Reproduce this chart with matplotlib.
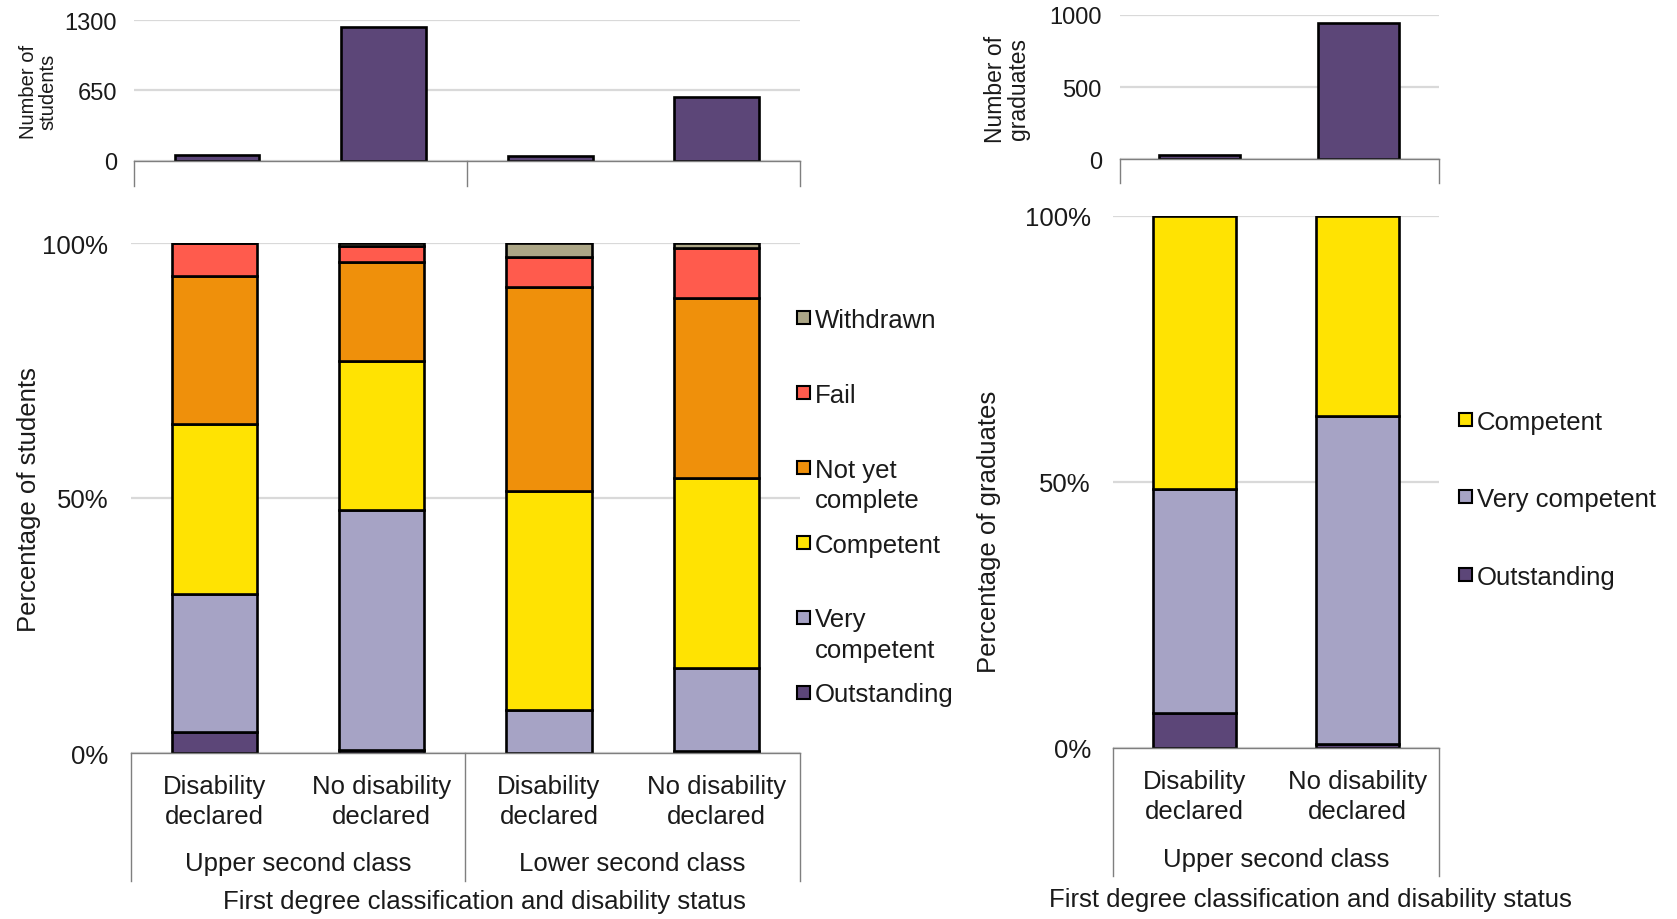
import matplotlib.pyplot as plt
import matplotlib.transforms as mtransforms
from matplotlib.patches import Rectangle
from matplotlib.ticker import FuncFormatter

plt.rcParams["font.family"] = ["Liberation Sans", "DejaVu Sans"]

# values
STATUS = ["Disability\ndeclared", "No disability\ndeclared"]
CLASSES_LEFT = ["Upper second class", "Lower second class"]
CLASSES_RIGHT = ["Upper second class"]

n_students = [55, 1240, 45, 590]
n_graduates = [33, 944]

# percentage of students, bars: upper/dis, upper/no dis, lower/dis, lower/no dis
outstanding = [4.2, 0.5, 0.0, 0.3]
very_competent = [27.0, 47.1, 8.4, 16.3]
competent = [33.4, 29.3, 42.9, 37.3]
not_yet_complete = [29.0, 19.3, 40.1, 35.3]
fail = [6.4, 3.3, 5.8, 9.8]
withdrawn = [0.0, 0.5, 2.8, 1.0]

# percentage of graduates
outstanding_g = [6.5, 0.7]
very_competent_g = [42.1, 61.6]
competent_g = [51.4, 37.7]

COLORS = {
    "Outstanding": "#5c4678",
    "Very competent": "#a6a3c5",
    "Competent": "#ffe302",
    "Not yet complete": "#ef900b",
    "Fail": "#ff5b4d",
    "Withdrawn": "#aca686",
}

W, H = 1677, 920
TXT = "#1a1a1a"
AXC = "#7f7f7f"
FS = 18.5
LS = 1.32          # line spacing of two-line labels
LINE_PX = 30       # gap between the two lines, in pixels

fig = plt.figure(figsize=(W / 100, H / 100), dpi=100)


def px_box(x0, x1, ytop, ybot):
    return [x0 / W, 1 - ybot / H, (x1 - x0) / W, (ybot - ytop) / H]


def fy(y):
    return 1 - y / H


def style(ax, ymax, ticks, fmt, tick_fs, pad=12):
    ax.set_ylim(0, ymax)
    ax.set_yticks(ticks)
    ax.yaxis.set_major_formatter(FuncFormatter(fmt))
    ax.grid(axis="y", color="#d9d9d9", lw=1.6)
    ax.set_axisbelow(True)
    for s in ["top", "right", "left"]:
        ax.spines[s].set_visible(False)
    ax.spines["bottom"].set_color(AXC)
    ax.spines["bottom"].set_linewidth(1.0)
    ax.tick_params(axis="y", length=0, pad=pad, labelsize=tick_fs, labelcolor=TXT)
    ax.tick_params(axis="x", length=0, labelbottom=False)


def separators(ax, xs, y0, y1):
    trans = mtransforms.blended_transform_factory(ax.transData, fig.transFigure)
    for x in xs:
        ax.plot([x, x], [fy(y0), fy(y1)], transform=trans, clip_on=False, color=AXC, lw=1.0)


def cat_labels(ax, n_groups, groups, y_lab, y_grp):
    trans = mtransforms.blended_transform_factory(ax.transData, fig.transFigure)
    for g in range(n_groups):
        for i, lab in enumerate(STATUS):
            ax.text(2 * g + i, fy(y_lab), lab, transform=trans, ha="center", va="center",
                    fontsize=FS, color=TXT, linespacing=LS)
        ax.text(2 * g + 0.5, fy(y_grp), groups[g], transform=trans, ha="center", va="center",
                fontsize=FS, color=TXT)


def legend(names, x_mark, y_first, step):
    for i, name in enumerate(names):
        y = y_first + i * step
        extra = name.count("\n") * LINE_PX
        fig.patches.append(Rectangle((x_mark / W, fy(y + 6.5)), 13 / W, 13 / H,
                                     transform=fig.transFigure,
                                     facecolor=COLORS[name.replace("\n", " ")],
                                     edgecolor="black", lw=1.5))
        fig.text((x_mark + 18) / W, fy(y + 0.36 * FS * 100 / 72 + extra), name,
                 ha="left", va="baseline", fontsize=FS, color=TXT, linespacing=LS)


bar_kw = dict(width=0.51, edgecolor="black", linewidth=1.9)
pct = lambda v, _: f"{v:.0f}%"
num = lambda v, _: f"{v:.0f}"

# ---- left: number of students ----
ax1 = fig.add_axes(px_box(133.7, 800, 21.4, 161.5))
x4 = range(4)
ax1.bar(x4, n_students, color=COLORS["Outstanding"], **bar_kw)
ax1.set_xlim(-0.5, 3.5)
style(ax1, 1300, [0, 650, 1300], num, 17)
separators(ax1, [-0.5, 1.5, 3.5], 161.5, 187)
fig.text(38 / W, fy(92), "Number of\nstudents", rotation=90, ha="center", va="center",
         fontsize=14.5, color=TXT, linespacing=1.0)

# ---- left: percentage of students ----
ax2 = fig.add_axes(px_box(130.5, 800, 244, 754))
series = [("Outstanding", outstanding), ("Very competent", very_competent),
          ("Competent", competent), ("Not yet complete", not_yet_complete),
          ("Fail", fail), ("Withdrawn", withdrawn)]
bottom = [0.0] * 4
for name, vals in series:
    ax2.bar(x4, vals, bottom=bottom, color=COLORS[name], **bar_kw)
    bottom = [b + v for b, v in zip(bottom, vals)]
ax2.set_xlim(-0.5, 3.5)
style(ax2, 100, [0, 50, 100], pct, FS, pad=16)
separators(ax2, [-0.5, 1.5, 3.5], 754, 882)
cat_labels(ax2, 2, CLASSES_LEFT, 802, 864)
fig.text(29 / W, fy(500), "Percentage of students", rotation=90, ha="center", va="center",
         fontsize=FS, color=TXT)
fig.text(484 / W, fy(902), "First degree classification and disability status",
         ha="center", va="center", fontsize=FS, color=TXT)
legend(["Withdrawn", "Fail", "Not yet\ncomplete", "Competent", "Very\ncompetent", "Outstanding"],
       797, 318.7, 74.9)

# ---- right: number of graduates ----
ax3 = fig.add_axes(px_box(1120, 1438.5, 16, 160.4))
x2 = range(2)
ax3.bar(x2, n_graduates, color=COLORS["Outstanding"], **bar_kw)
ax3.set_xlim(-0.5, 1.5)
style(ax3, 1000, [0, 500, 1000], num, 17, pad=13)
separators(ax3, [-0.5, 1.5], 160.4, 184)
fig.text(1007 / W, fy(89), "Number of\ngraduates", rotation=90, ha="center", va="center",
         fontsize=16.5, color=TXT, linespacing=0.95)

# ---- right: percentage of graduates ----
ax4 = fig.add_axes(px_box(1113, 1438.5, 217, 748.6))
series_g = [("Outstanding", outstanding_g), ("Very competent", very_competent_g),
            ("Competent", competent_g)]
bottom = [0.0] * 2
for name, vals in series_g:
    ax4.bar(x2, vals, bottom=bottom, color=COLORS[name], **bar_kw)
    bottom = [b + v for b, v in zip(bottom, vals)]
ax4.set_xlim(-0.5, 1.5)
style(ax4, 100, [0, 50, 100], pct, FS, pad=16)
separators(ax4, [-0.5, 1.5], 748.6, 877)
cat_labels(ax4, 1, CLASSES_RIGHT, 797, 860)
fig.text(989 / W, fy(531.5), "Percentage of graduates", rotation=90, ha="center", va="center",
         fontsize=FS, color=TXT)
fig.text(1310 / W, fy(900.5), "First degree classification and disability status",
         ha="center", va="center", fontsize=FS, color=TXT)
legend(["Competent", "Very competent", "Outstanding"], 1459, 420.3, 77.5)

fig.savefig("out.png", dpi=100)
